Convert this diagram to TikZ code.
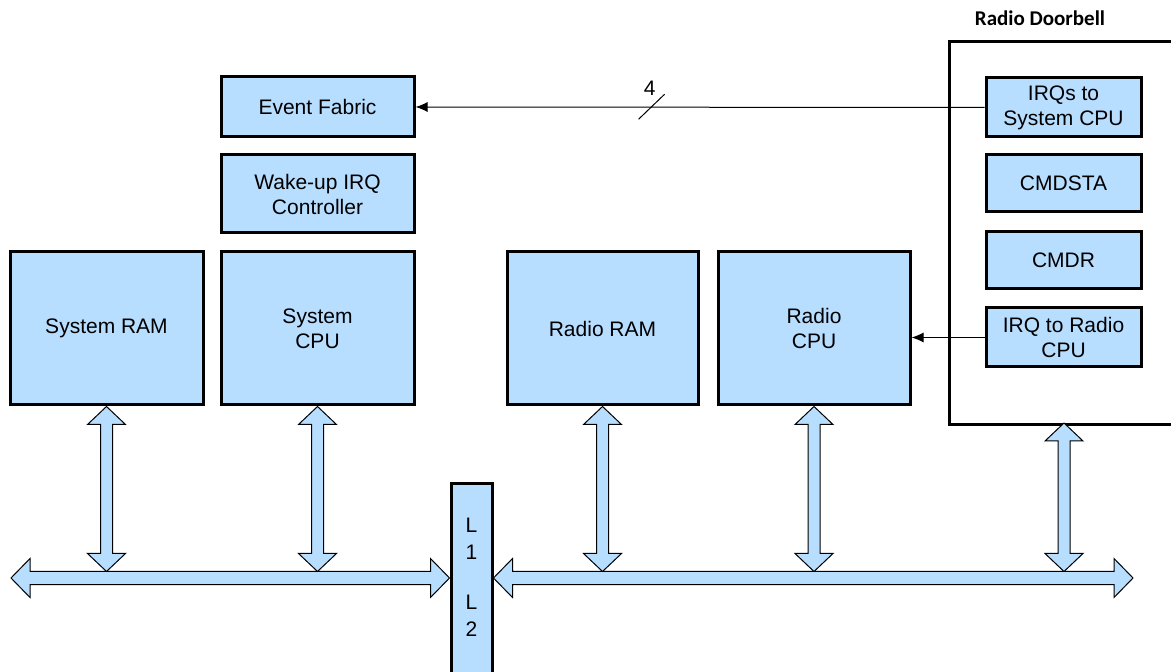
\documentclass[tikz,border=0pt]{standalone}
\usepackage{fontspec}
\setmainfont{Liberation Sans}
\newfontfamily\calibri{Carlito}
\usetikzlibrary{calc,arrows.meta}
\definecolor{boxblue}{RGB}{183,221,255}
\newcommand{\vfat}[2]{%
  \draw[fat] (#1) -- ++(19,18) -- ++(-13,0) -- ($(#2)+(6,-18)$) -- ++(13,0) -- (#2)
    -- ++(-19,-18) -- ++(13,0) -- ($(#1)+(-6,18)$) -- ++(-13,0) -- cycle;}
\newcommand{\hfat}[2]{%
  \draw[fat] (#1) -- ++(19,-19.5) -- ++(0,13) -- ($(#2)+(-19,-6.5)$) -- ++(0,-13) -- (#2)
    -- ++(-19,19.5) -- ++(0,-13) -- ($(#1)+(19,6.5)$) -- ++(0,13) -- cycle;}
\begin{document}
\begin{tikzpicture}[x=0.5pt,y=-0.5pt,
  box/.style={draw,line width=1.5pt,fill=boxblue,align=center,font=\fontsize{10.5}{12.5}\selectfont,inner sep=0pt},
  fat/.style={draw,line width=0.5pt,fill=boxblue,line join=miter},
  thin/.style={line width=0.5pt,-{Latex[length=6pt,width=5pt]}}]
\useasboundingbox (0,0) rectangle (1171,672);
% doorbell frame
\node[draw,line width=1.5pt,minimum width=125pt,minimum height=191.5pt,anchor=north west,inner sep=0pt] (door) at (948,40) {};
\node[font=\calibri\bfseries\fontsize{10.5}{12}\selectfont] (doortitle) at (1040,18) {Radio Doorbell};
% boxes
\node[box,minimum width=96.5pt,minimum height=76.5pt] (sysram) at (106.5,328.5) {System RAM};
\node[box,minimum width=96.5pt,minimum height=76.5pt] (syscpu) at (317.5,328.5) {System\\CPU};
\node[box,minimum width=96.5pt,minimum height=30pt] (evfab) at (317.5,107) {Event Fabric};
\node[box,minimum width=96.5pt,minimum height=39pt] (wake) at (317.5,194) {Wake-up IRQ\\Controller};
\node[box,minimum width=95.5pt,minimum height=76.5pt] (rram) at (602.5,328.5) {Radio RAM};
\node[box,minimum width=96pt,minimum height=76.5pt] (rcpu) at (814,328.5) {Radio\\CPU};
\node[box,minimum width=77.5pt,minimum height=29.5pt] (irqsys) at (1063.5,107.5) {IRQs to\\System CPU};
\node[box,minimum width=77.5pt,minimum height=28.5pt] (cmdsta) at (1063.5,183.5) {CMDSTA};
\node[box,minimum width=77.5pt,minimum height=28.5pt] (cmdr) at (1063.5,260.5) {CMDR};
\node[box,minimum width=77.5pt,minimum height=29.5pt] (irqradio) at (1063.5,337.5) {IRQ to Radio\\CPU};
\node[box,minimum width=20.5pt,minimum height=110pt,anchor=north] (l12) at (471.5,482) {};
\node[align=center,font=\fontsize{10.5}{13.5}\selectfont,inner sep=0pt] (l12text) at (471.5,577) {L\\1\\[11.5pt]L\\2};
% thin connectors
\draw[thin] (irqsys.west) -- (evfab.east) coordinate[pos=0.585] (slashc);
\draw[line width=0.5pt] ($(slashc)+(-13,12)$) -- ($(slashc)+(13,-13)$);
\node[font=\fontsize{10.5}{12}\selectfont,inner sep=0pt] (four) at ($(slashc)+(-2,-19)$) {4};
\draw[thin] (irqradio.west) -- (rcpu.east |- irqradio.west);
% buses
\coordinate (bl1) at (11,578);
\coordinate (bl2) at (l12.west |- bl1);
\coordinate (br1) at (l12.east |- bl1);
\coordinate (br2) at (1133,578);
\hfat{bl1}{bl2}
\hfat{br1}{br2}
% vertical fat arrows
\coordinate (v1) at (sysram.south |- 0,571.5);
\coordinate (v2) at (syscpu.south |- 0,571.5);
\coordinate (v3) at (rram.south |- 0,571.5);
\coordinate (v4) at (rcpu.south |- 0,571.5);
\coordinate (dtop) at (1064,423);
\coordinate (v5) at (1064,571.5);
\vfat{sysram.south}{v1}
\vfat{syscpu.south}{v2}
\vfat{rram.south}{v3}
\vfat{rcpu.south}{v4}
\vfat{dtop}{v5}
\end{tikzpicture}
\end{document}
